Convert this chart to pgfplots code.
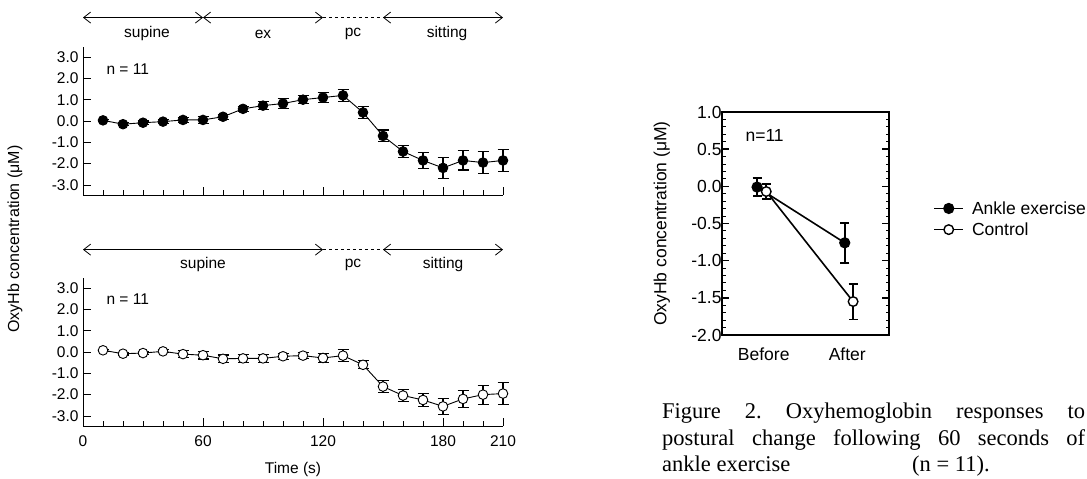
\documentclass[border=0pt]{standalone}
\usepackage{pgfplots}
\pgfplotsset{compat=1.18}
\usepackage{pgfplotstable}
\usepackage{fontspec}
\setmainfont{Liberation Sans}
\newfontfamily\timesfont{Liberation Serif}
\usetikzlibrary{arrows.meta}

\pgfplotstableread{
t y e
10 0.03 0.05
20 -0.15 0.08
30 -0.08 0.08
40 -0.03 0.10
50 0.05 0.12
60 0.05 0.15
70 0.20 0.12
80 0.57 0.12
90 0.72 0.20
100 0.82 0.22
110 1.00 0.20
120 1.10 0.22
130 1.20 0.29
140 0.40 0.28
150 -0.70 0.28
160 -1.43 0.30
170 -1.85 0.37
180 -2.20 0.49
190 -1.85 0.45
200 -1.95 0.51
210 -1.85 0.51
}\ankletab

\pgfplotstableread{
t y e
10 0.08 0.05
20 -0.08 0.06
30 -0.05 0.07
40 0.03 0.07
50 -0.10 0.15
60 -0.15 0.18
70 -0.32 0.18
80 -0.30 0.20
90 -0.30 0.18
100 -0.20 0.15
110 -0.17 0.15
120 -0.28 0.20
130 -0.17 0.29
140 -0.60 0.19
150 -1.62 0.28
160 -2.04 0.29
170 -2.25 0.31
180 -2.55 0.39
190 -2.20 0.41
200 -2.00 0.45
210 -1.95 0.50
}\controltab

\pgfplotsset{
  leftpanel/.style={
    scale only axis, width=420bp, height=148bp,
    xmin=0, xmax=210, ymin=-3.47, ymax=3.47,
    axis x line=bottom, axis y line=left,
    axis line style={-, line width=0.9bp},
    xtick={0,60,120,180,210}, minor xtick={10,20,...,200},
    ytick={-3,-2,-1,0,1,2,3}, yticklabels={-3.0,-2.0,-1.0,0.0,1.0,2.0,3.0},
    xtick pos=bottom, ytick pos=left,
    tick align=inside,
    major tick length=8bp, minor tick length=4.5bp,
    tick style={black, line width=0.9bp},
    tick label style={font=\fontsize{15.5bp}{18bp}\selectfont},
    yticklabel style={xshift=-1bp},
    clip=false,
  },
}
\tikzset{
  arr/.style={{Straight Barb[length=7bp,width=11bp]}-{Straight Barb[length=7bp,width=11bp]}, line width=0.8bp},
  phase/.style={font=\fontsize{15.5bp}{18bp}\selectfont, anchor=center},
}

\begin{document}
\begin{tikzpicture}
\useasboundingbox (0,0) rectangle (1087bp,479bp);

% top panel: ankle exercise
\begin{axis}[leftpanel, at={(83bp,284bp)}, anchor=south west, xticklabels={}]
\addplot[black, line width=0.9bp, mark=*, mark size=4.8bp, mark options={fill=black, solid},
  error bars/.cd, y dir=both, y explicit,
  error bar style={line width=1.1bp},
  error mark options={rotate=90, mark size=5.5bp, line width=1.1bp}]
  table[x=t, y=y, y error=e] {\ankletab};
\node[anchor=west, font=\fontsize{15.5bp}{18bp}\selectfont] at (axis cs:10,2.42) {n = 11};
\draw[arr] (axis cs:0,4.85) -- (axis cs:60,4.85);
\draw[arr] (axis cs:60,4.85) -- (axis cs:120,4.85);
\draw[line width=0.8bp, dashed] (axis cs:120,4.85) -- (axis cs:150,4.85);
\draw[arr] (axis cs:150,4.85) -- (axis cs:210,4.85);
\node[phase] at (axis cs:32,4.08) {supine};
\node[phase] at (axis cs:90,4.08) {ex};
\node[phase] at (axis cs:135,4.08) {pc};
\node[phase] at (axis cs:182,4.08) {sitting};
\end{axis}

% bottom panel: control
\begin{axis}[leftpanel, at={(83bp,53bp)}, anchor=south west,
  xticklabels={0,60,120,180,210},
  xticklabel style={yshift=-6bp},
  xlabel={Time (s)},
  xlabel style={font=\fontsize{15.5bp}{18bp}\selectfont, at={(axis description cs:0.5,0)}, anchor=center, yshift=-43bp}]
\addplot[black, line width=0.9bp, mark=*, mark size=4.8bp, mark options={fill=white, solid, line width=0.9bp},
  error bars/.cd, y dir=both, y explicit,
  error bar style={line width=1.1bp},
  error mark options={rotate=90, mark size=5.5bp, line width=1.1bp}]
  table[x=t, y=y, y error=e] {\controltab};
\node[anchor=west, font=\fontsize{15.5bp}{18bp}\selectfont] at (axis cs:10,2.5) {n = 11};
\draw[arr] (axis cs:0,4.8) -- (axis cs:120,4.8);
\draw[line width=0.8bp, dashed] (axis cs:120,4.8) -- (axis cs:150,4.8);
\draw[arr] (axis cs:150,4.8) -- (axis cs:210,4.8);
\node[phase] at (axis cs:60,4.1) {supine};
\node[phase] at (axis cs:135,4.1) {pc};
\node[phase] at (axis cs:180,4.1) {sitting};
\end{axis}

\node[rotate=90, font=\fontsize{16bp}{19bp}\selectfont] at (15bp,240bp) {OxyHb concentration (μM)};

% right panel
\begin{axis}[at={(722bp,144bp)}, anchor=south west,
  scale only axis, width=167bp, height=223bp,
  xmin=0.5, xmax=2.5, ymin=-2, ymax=1,
  xtick={1,2}, xticklabels={Before,After}, x tick style={draw=none},
  ytick={-2,-1.5,-1,-0.5,0,0.5,1}, yticklabels={-2.0,-1.5,-1.0,-0.5,0.0,0.5,1.0},
  minor y tick num=4, ytick pos=both, tick align=inside,
  major tick length=7bp, minor tick length=3.5bp,
  tick style={black, line width=1.4bp},
  minor tick style={line width=1bp},
  axis line style={line width=1.7bp},
  tick label style={font=\fontsize{17.5bp}{21bp}\selectfont},
  xticklabel style={yshift=-9bp},
  yticklabel style={xshift=3bp},
  ylabel={OxyHb concentration (μM)},
  ylabel style={font=\fontsize{17.5bp}{21bp}\selectfont, at={(axis description cs:-0.36,0.5)}, anchor=center},
  legend style={at={(axis description cs:1.265,0.52)}, anchor=west, draw=none, fill=none,
    font=\fontsize{17.5bp}{21bp}\selectfont, row sep=3bp, inner sep=0pt,
    /tikz/every odd column/.append style={column sep=6bp}},
  legend cell align=left,
  legend image code/.code={\draw[mark repeat=2, mark phase=2] plot coordinates {(0bp,0bp) (14.5bp,0bp) (29bp,0bp)};},
  clip=false,
]
\addplot[black, line width=1.6bp, mark=*, mark size=4.8bp, mark options={fill=black, solid},
  error bars/.cd, y dir=both, y explicit,
  error bar style={line width=1.6bp},
  error mark options={rotate=90, mark size=4.5bp, line width=1.6bp}]
  coordinates {(0.92,-0.01) +- (0,0.12) (1.97,-0.76) +- (0,0.27)};
\addlegendentry{Ankle exercise}
\addplot[black, line width=1.6bp, mark=*, mark size=4.8bp, mark options={fill=white, solid, line width=1.4bp},
  error bars/.cd, y dir=both, y explicit,
  error bar style={line width=1.6bp},
  error mark options={rotate=90, mark size=4.5bp, line width=1.6bp}]
  coordinates {(1.03,-0.07) +- (0,0.10) (2.07,-1.55) +- (0,0.24)};
\addlegendentry{Control}
\node[anchor=west, font=\fontsize{17.5bp}{21bp}\selectfont] at (axis cs:0.74,0.69) {n=11};
\end{axis}

% caption
\begin{scope}[every node/.style={anchor=base west, inner sep=0pt, font=\timesfont\fontsize{22.5bp}{26bp}\selectfont}]
\node at (662bp,60bp) {\makebox[423bp][s]{Figure 2.\ Oxyhemoglobin responses to}};
\node at (662bp,34bp) {\makebox[423bp][s]{postural change following 60 seconds of}};
\node at (662bp,8bp) {ankle exercise};
\node at (912bp,8bp) {(n = 11).};
\end{scope}
\end{tikzpicture}
\end{document}
